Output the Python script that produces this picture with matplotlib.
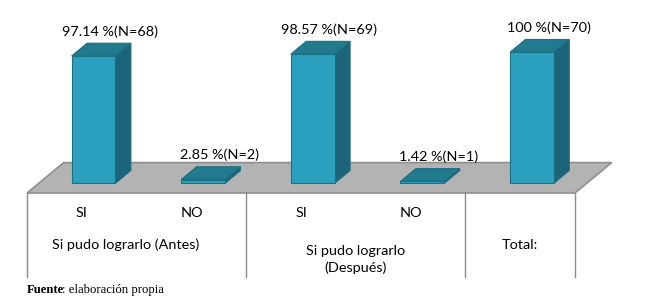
import matplotlib
matplotlib.use("Agg")
import matplotlib.pyplot as plt
from matplotlib.patches import Polygon

# ---- data ----
values = [97.14, 2.85, 98.57, 1.42, 100]
counts = [68, 2, 69, 1, 70]
sub_labels = ["SI", "NO", "SI", "NO", ""]
group_labels = ["Si pudo lograrlo (Antes)", "Si pudo lograrlo\n(Después)", "Total:"]
group_spans = [(0, 1), (2, 3), (4, 4)]

# ---- style / geometry ----
W, H = 656, 299
DX = 0.335     # depth shift in category units (full floor depth)
DY = 23.2      # depth shift in percent units (full floor depth)
BAR_W = 0.40
D0, D1 = 0.32, 0.74
FRONT = "#2aa0be"
SIDE = "#1c6479"
TOP = "#217a8d"
EDGE = "#1d6f82"
FLOOR = "#b3b3b3"
FLOOR_EDGE = "#8f8f8f"
FONT = "Lato"
FS = 10.4

fig = plt.figure(figsize=(W / 100, H / 100), dpi=100)
ax = fig.add_axes([0, 0, 1, 1])
ax.set_xlim(-0.7464, 5.239)
ax.set_ylim(-80.9, 147.3)
ax.axis("off")


def P(x, v, d):
    return (x + DX * d, v + DY * d)


n = len(values)
# floor
floor = Polygon([P(-0.5, 0, 0), P(n - 0.5, 0, 0), P(n - 0.5, 0, 1), P(-0.5, 0, 1)],
                closed=True, facecolor=FLOOR, edgecolor=FLOOR_EDGE, lw=1.2, zorder=1)
ax.add_patch(floor)

# separators below floor
for b in [-0.5, 1.5, 3.5, 4.5]:
    ax.plot([b, b], [0, -64], color="#8a8a8a", lw=1.0, zorder=1)

# bars
for i, v in enumerate(values):
    x0, x1 = i - BAR_W / 2, i + BAR_W / 2
    side = [P(x1, 0, D0), P(x1, 0, D1), P(x1, v, D1), P(x1, v, D0)]
    front = [P(x0, 0, D0), P(x1, 0, D0), P(x1, v, D0), P(x0, v, D0)]
    top = [P(x0, v, D0), P(x1, v, D0), P(x1, v, D1), P(x0, v, D1)]
    ax.add_patch(Polygon(side, closed=True, facecolor=SIDE, edgecolor=EDGE, lw=0.8, zorder=2))
    ax.add_patch(Polygon(front, closed=True, facecolor=FRONT, edgecolor=EDGE, lw=0.8, zorder=3))
    ax.add_patch(Polygon(top, closed=True, facecolor=TOP, edgecolor=EDGE, lw=0.8, zorder=3))
    lx, ly = P(i, v, D1)
    ax.text(lx + 0.01, ly + 9, f"{v:g} %(N={counts[i]})", ha="center", va="center",
            fontsize=FS, family=FONT, color="#000000", zorder=5)

# category labels
for i, s in enumerate(sub_labels):
    if s:
        ax.text(i, -15.3, s, ha="center", va="center", fontsize=FS, family=FONT)

# group labels
group_x = [0.40, 2.5, 4.0]
for (a, b), g, gx in zip(group_spans, group_labels, group_x):
    ax.text(gx, -39.5, g, ha="center", va="top" if "\n" in g else "center",
            fontsize=FS, family=FONT, linespacing=1.45)

# source
t1 = fig.text(27 / W, 1 - 290 / H, "Fuente", fontsize=9.2, family="Liberation Serif",
              fontweight="bold", va="center", ha="left")
ax.annotate(": elaboración propia", xy=(1, 0.5), xycoords=t1, xytext=(-1.5, 0),
            textcoords="offset points", va="center", ha="left",
            fontsize=9.2, family="Liberation Serif")

fig.savefig("out.png", dpi=100)
